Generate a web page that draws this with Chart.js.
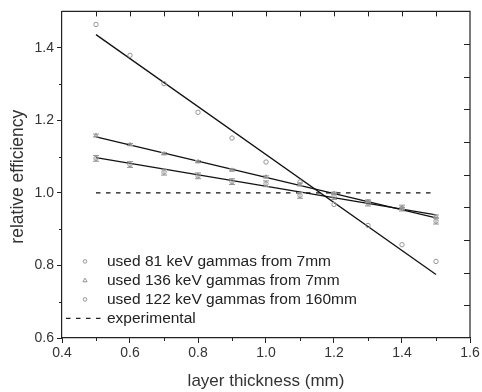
<!DOCTYPE html>
<html>
<head>
<meta charset="utf-8">
<script src="https://cdn.jsdelivr.net/npm/chart.js"></script>
<style>
  html, body { margin: 0; padding: 0; background: #fff; }
  #wrap { width: 482px; height: 392px; }
</style>
</head>
<body>
<div id="wrap"><canvas id="c" width="482" height="392"></canvas></div>
<script>
// ---- data ----
const thickness = [0.5, 0.6, 0.7, 0.8, 0.9, 1.0, 1.1, 1.2, 1.3, 1.4, 1.5];
const eff81  = [1.464, 1.379, 1.301, 1.222, 1.151, 1.085, 1.030, 0.968, 0.910, 0.857, 0.811];
const err81  = [0.002, 0.002, 0.002, 0.002, 0.002, 0.002, 0.002, 0.002, 0.002, 0.002, 0.002];
const eff136 = [1.158, 1.133, 1.108, 1.086, 1.063, 1.044, 1.023, 0.999, 0.977, 0.957, 0.935];
const err136 = [0.004, 0.003, 0.003, 0.003, 0.003, 0.003, 0.004, 0.003, 0.003, 0.003, 0.004];
const eff122 = [1.095, 1.078, 1.057, 1.047, 1.031, 1.025, 0.993, 0.990, 0.972, 0.958, 0.922];
const err122 = [0.008, 0.008, 0.008, 0.008, 0.008, 0.008, 0.008, 0.008, 0.008, 0.008, 0.008];
const fit81x  = [0.5, 1.5], fit81y  = [1.436, 0.775];
const fit136x = [0.5, 1.5], fit136y = [1.154, 0.931];
const fit122x = [0.5, 1.5], fit122y = [1.097, 0.939];
const expX = [0.5, 1.5], expY = [1.0, 1.0];
const xTicks = [0.4, 0.6, 0.8, 1.0, 1.2, 1.4, 1.6];
const yTicks = [0.6, 0.8, 1.0, 1.2, 1.4];
const xMinorTicks = [0.5, 0.7, 0.9, 1.1, 1.3, 1.5];
const yMinorTicks = [0.7, 0.9, 1.1, 1.3];
const legendLabels = ['used 81 keV gammas from 7mm', 'used 136 keV gammas from 7mm', 'used 122 keV gammas from 160mm', 'experimental'];
const xTitle = 'layer thickness (mm)';
const yTitle = 'relative efficiency';

const pts = (xs, ys) => xs.map((x, i) => ({x: x, y: ys[i]}));
const FONT = "'Liberation Sans', Arial, sans-serif";
const MARK = '#959595';

const pointDS = (label, ys, style, errs) => ({
  label: label, data: pts(thickness, ys), showLine: false,
  pointStyle: style, pointRadius: 2.2, borderWidth: 1,
  pointBorderColor: MARK, pointBackgroundColor: 'rgba(255,255,255,0)',
  errs: errs, order: 1
});
const lineDS = (xs, ys, dash) => ({
  data: pts(xs, ys), showLine: true, pointRadius: 0, borderColor: '#111',
  borderWidth: 1.3, borderDash: dash || [], fill: false, order: 2
});

const framePlugin = {
  id: 'frame',
  afterDatasetsDraw(chart) {
    const ctx = chart.ctx, xs = chart.scales.x, ys = chart.scales.y;
    chart.data.datasets.forEach(ds => {
      if (!ds.errs) return;
      ctx.save();
      ctx.strokeStyle = MARK; ctx.lineWidth = 1;
      ds.data.forEach((p, i) => {
        const e = ds.errs[i];
        const px = xs.getPixelForValue(p.x);
        const y1 = ys.getPixelForValue(p.y + e), y2 = ys.getPixelForValue(p.y - e);
        if (Math.abs(y2 - y1) < 2) return;
        ctx.beginPath();
        ctx.moveTo(px, y1); ctx.lineTo(px, y2);
        ctx.moveTo(px - 3, y1); ctx.lineTo(px + 3, y1);
        ctx.moveTo(px - 3, y2); ctx.lineTo(px + 3, y2);
        ctx.stroke();
      });
      ctx.restore();
    });
  },
  afterDraw(chart) {
    const ctx = chart.ctx, a = chart.chartArea, xs = chart.scales.x, ys = chart.scales.y;
    ctx.save();
    ctx.strokeStyle = '#222'; ctx.lineWidth = 1.2;
    ctx.beginPath();
    ctx.moveTo(a.left, a.top); ctx.lineTo(a.right, a.top); ctx.lineTo(a.right, a.bottom);
    ctx.stroke();
    ctx.lineWidth = 1;
    ctx.beginPath();
    xTicks.concat(xMinorTicks).forEach(v => {
      const px = Math.round(xs.getPixelForValue(v)) + 0.5;
      if (px <= a.left + 1 || px >= a.right - 1) return;
      ctx.moveTo(px, a.top); ctx.lineTo(px, a.top + 5);
    });
    xMinorTicks.forEach(v => {
      const px = Math.round(xs.getPixelForValue(v)) + 0.5;
      ctx.moveTo(px, a.bottom); ctx.lineTo(px, a.bottom + 3);
    });
    yMinorTicks.forEach(v => {
      const py = Math.round(ys.getPixelForValue(v)) + 0.5;
      ctx.moveTo(a.left, py); ctx.lineTo(a.left - 3, py);
    });
    for (let k = 1; k < 10; k++) {
      const py = Math.round(a.bottom - (a.bottom - a.top) * k / 10) + 0.5;
      ctx.moveTo(a.right, py); ctx.lineTo(a.right - 6, py);
    }
    ctx.stroke();

    // y title
    ctx.fillStyle = '#333';
    ctx.font = '17.5px ' + FONT;
    ctx.textAlign = 'center'; ctx.textBaseline = 'middle';
    ctx.translate(18, (a.top + a.bottom) / 2 + 2);
    ctx.rotate(-Math.PI / 2);
    ctx.fillText(yTitle, 0, 0);
    ctx.restore();

    // legend
    ctx.save();
    ctx.font = '15.5px ' + FONT;
    ctx.textAlign = 'left'; ctx.textBaseline = 'middle';
    const lx = a.left + 23, tx = a.left + 45;
    const ly0 = a.top + 250, dy = 19;
    legendLabels.forEach((lab, i) => {
      const y = ly0 + i * dy;
      ctx.fillStyle = '#222';
      ctx.fillText(lab, tx, y);
      ctx.strokeStyle = MARK; ctx.lineWidth = 1;
      if (i === 0 || i === 2) {
        ctx.beginPath(); ctx.arc(lx, y, 1.8, 0, Math.PI * 2); ctx.stroke();
      } else if (i === 1) {
        ctx.beginPath(); ctx.moveTo(lx, y - 2.3); ctx.lineTo(lx + 2.1, y + 1.4); ctx.lineTo(lx - 2.1, y + 1.4); ctx.closePath(); ctx.stroke();
      } else {
        ctx.strokeStyle = '#222'; ctx.lineWidth = 1.3;
        ctx.setLineDash([4.5, 5.5]);
        ctx.beginPath(); ctx.moveTo(a.left + 4, y); ctx.lineTo(a.left + 42, y); ctx.stroke();
        ctx.setLineDash([]);
      }
    });
    ctx.restore();
  }
};

new Chart(document.getElementById('c'), {
  type: 'scatter',
  data: {
    datasets: [
      pointDS(legendLabels[0], eff81, 'circle', err81),
      pointDS(legendLabels[1], eff136, 'triangle', err136),
      pointDS(legendLabels[2], eff122, 'circle', err122),
      lineDS(fit81x, fit81y),
      lineDS(fit136x, fit136y),
      lineDS(fit122x, fit122y),
      lineDS(expX, expY, [4.5, 5.5])
    ]
  },
  options: {
    responsive: false,
    animation: false,
    devicePixelRatio: 1,
    layout: { padding: { top: 8, right: 12, left: 0, bottom: 0 } },
    plugins: { legend: { display: false }, tooltip: { enabled: false } },
    scales: {
      x: {
        type: 'linear', min: 0.4, max: 1.6,
        afterBuildTicks: s => { s.ticks = xTicks.map(v => ({value: v})); },
        afterFit: s => { s.height = 54; },
        ticks: { callback: v => Number(v).toFixed(1), color: '#333', font: { family: FONT, size: 14 }, padding: 2, maxRotation: 0 },
        grid: { drawOnChartArea: false, drawTicks: true, tickLength: 5, color: '#222', lineWidth: 1 },
        border: { color: '#222', width: 1.2 },
        title: { display: true, text: xTitle, color: '#333', font: { family: FONT, size: 17 }, padding: { top: 5, bottom: 0 } }
      },
      y: {
        type: 'linear', min: 0.6, max: 1.5,
        afterBuildTicks: s => { s.ticks = yTicks.map(v => ({value: v})); },
        afterFit: s => { s.width = 62; },
        ticks: { callback: v => Number(v).toFixed(1), color: '#333', font: { family: FONT, size: 14 }, padding: 3 },
        grid: { drawOnChartArea: false, drawTicks: true, tickLength: 5, color: '#222', lineWidth: 1 },
        border: { color: '#222', width: 1.2 }
      }
    }
  },
  plugins: [framePlugin]
});
</script>
</body>
</html>
